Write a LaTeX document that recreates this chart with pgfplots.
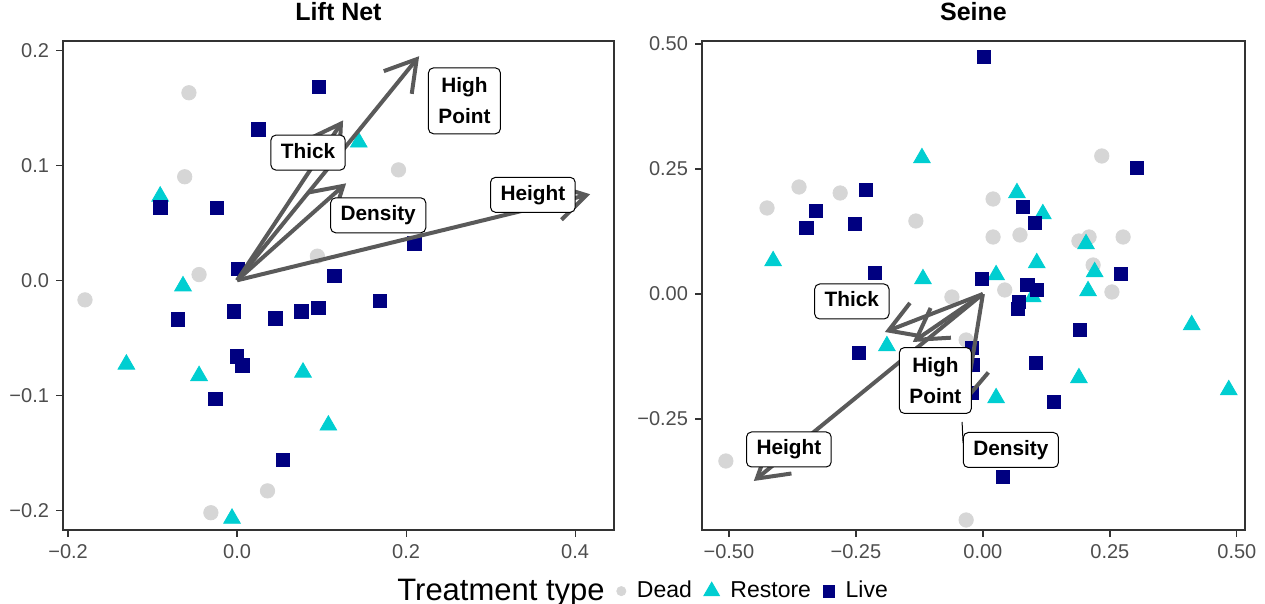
\documentclass[border=0pt]{standalone}
\usepackage{fontspec}
\setmainfont{Liberation Sans}
\usepackage{pgfplots}
\pgfplotsset{compat=1.18}
\usetikzlibrary{arrows.meta}
\definecolor{deadc}{HTML}{D6D6D6}
\definecolor{restorec}{HTML}{00CED1}
\definecolor{livec}{HTML}{000080}
\definecolor{arrowc}{HTML}{5A5A5A}
\definecolor{tickc}{HTML}{4D4D4D}
\definecolor{framec}{HTML}{333333}
\pgfplotsset{
  panel/.style={
    scale only axis, height=244.5pt,
    anchor=south west,
    axis line style={framec, line width=0.6pt},
    tick align=outside, tick pos=left,
    major tick length=3.5pt,
    tick style={framec, line width=0.6pt},
    tick label style={font=\fontsize{10}{12}\selectfont, text=tickc},
    title style={font=\bfseries\fontsize{12.5}{15}\selectfont, anchor=base, at={(0.5,1)}, yshift=4pt},
    scaled ticks=false,
    clip marker paths=true,
  },
  dead/.style={only marks, mark=*, mark size=3.6pt, color=deadc, forget plot},
  restore/.style={only marks, mark=triangle*, mark size=4.8pt, color=restorec, forget plot},
  live/.style={only marks, mark=square*, mark size=3.4pt, color=livec, forget plot},
  vec/.style={arrowc, line width=2pt, -{Straight Barb[length=15pt,width=18pt]}, forget plot},
}
\tikzset{
  lab/.style={draw=black, fill=white, rounded corners=2.5pt, line width=0.5pt, font=\bfseries\fontsize{10.4}{15.3}\selectfont, inner xsep=5pt, inner ysep=4pt, text height=7.5pt, text depth=2pt},
  lab2/.style={draw=black, fill=white, rounded corners=2.5pt, line width=0.5pt, font=\bfseries\fontsize{10.4}{15.3}\selectfont, inner xsep=5pt, inner ysep=5pt, align=center},
}
\begin{document}
\begin{tikzpicture}
\path[use as bounding box] (0,0) rectangle (632.5pt,302pt);
% ---------------- Lift Net ----------------
\begin{axis}[panel, at={(31.5pt,37pt)}, width=275.5pt,
  title={Lift Net},
  xmin=-0.206, xmax=0.446, ymin=-0.217, ymax=0.208,
  xtick={-0.2,0,0.2,0.4}, xticklabels={−0.2,0.0,0.2,0.4},
  ytick={-0.2,-0.1,0,0.1,0.2}, yticklabels={−0.2,−0.1,0.0,0.1,0.2},
  legend style={draw=none, fill=none, legend columns=-1,
    at={(axis description cs:0.5862,-0.125)}, anchor=west, inner sep=0pt,
    font=\fontsize{11.5}{13}\selectfont,
    /tikz/every odd column/.append style={column sep=5.5pt},
    /tikz/every even column/.append style={column sep=6pt},
    nodes={inner sep=0pt}},
  legend cell align=left,
  legend image code/.code={\draw[mark repeat=2,mark phase=2] plot coordinates {(0pt,0pt) (5pt,0pt) (10pt,0pt)};},
]
\addplot[dead] table {
-0.057 0.163
-0.062 0.090
-0.045 0.005
-0.180 -0.017
0.191 0.096
0.095 0.021
0.036 -0.183
-0.031 -0.202
};
\addplot[restore] table {
-0.091 0.073
-0.064 -0.005
-0.131 -0.073
-0.045 -0.083
0.078 -0.080
0.108 -0.126
-0.006 -0.207
0.144 0.120
};
\addplot[live] table {
0.097 0.168
0.025 0.131
-0.091 0.0635
-0.024 0.063
0.001 0.010
0.115 0.004
0.210 0.032
-0.070 -0.034
-0.004 -0.027
0.045 -0.033
0.076 -0.027
0.096 -0.024
0.169 -0.018
0.000 -0.066
0.006 -0.074
-0.026 -0.103
0.054 -0.156
};
\addplot[vec] coordinates {(0,0) (0.1254,0.139)};
\addplot[vec] coordinates {(0,0) (0.129,0.0843)};
\addplot[vec] coordinates {(0,0) (0.2154,0.1948)};
\addplot[vec] coordinates {(0,0) (0.4178,0.0748)};
\node[lab] at (axis cs:0.084,0.111) {Thick};
\node[lab] at (axis cs:0.167,0.0565) {Density};
\node[lab2] at (axis cs:0.269,0.156) {High\\Point};
\node[lab] at (axis cs:0.350,0.0743) {Height};
\addlegendimage{empty legend}\addlegendentry{\fontsize{15.5}{18}\selectfont Treatment type}
\addlegendimage{only marks, mark=*, mark size=2.3pt, color=deadc}\addlegendentry{Dead}
\addlegendimage{only marks, mark=triangle*, mark size=4.5pt, color=restorec}\addlegendentry{Restore}
\addlegendimage{only marks, mark=square*, mark size=2.9pt, color=livec}\addlegendentry{Live}
\end{axis}
% ---------------- Seine ----------------
\begin{axis}[panel, at={(351pt,37pt)}, width=271.5pt,
  title={Seine},
  xmin=-0.553, xmax=0.516, ymin=-0.472, ymax=0.506,
  xtick={-0.5,-0.25,0,0.25,0.5}, xticklabels={−0.50,−0.25,0.00,0.25,0.50},
  ytick={-0.25,0,0.25,0.5}, yticklabels={−0.25,0.00,0.25,0.50},
]
\addplot[dead] table {
-0.425 0.172
-0.362 0.214
-0.281 0.202
-0.132 0.146
0.234 0.276
0.020 0.190
0.020 0.114
0.073 0.118
0.189 0.106
0.209 0.114
0.276 0.114
0.217 0.058
0.043 0.008
0.254 0.004
-0.061 -0.006
-0.033 -0.092
-0.033 -0.452
-0.506 -0.334
};
\addplot[restore] table {
-0.413 0.066
-0.120 0.272
-0.118 0.030
0.067 0.202
0.118 0.160
0.203 0.100
0.106 0.062
0.220 0.044
0.026 0.038
0.098 -0.006
0.207 0.006
0.411 -0.062
0.189 -0.168
0.484 -0.192
0.026 -0.208
-0.189 -0.104
};
\addplot[live] table {
0.002 0.474
0.303 0.252
0.079 0.174
0.102 0.142
0.272 0.040
-0.002 0.030
0.087 0.018
0.106 0.008
-0.230 0.208
-0.329 0.166
-0.347 0.132
-0.252 0.140
-0.213 0.042
-0.244 -0.118
0.071 -0.016
0.069 -0.030
0.191 -0.072
0.104 -0.138
0.140 -0.216
0.039 -0.366
-0.022 -0.108
-0.021 -0.142
-0.022 -0.198
};
\addplot[vec] coordinates {(0,0) (-0.193,-0.076)};
\addplot[vec] coordinates {(0,0) (-0.138,-0.096)};
\addplot[vec] coordinates {(0,0) (-0.451,-0.374)};
\addplot[vec] coordinates {(0,0) (-0.035,-0.218)};
\addplot[black, line width=0.5pt, forget plot] coordinates {(-0.041,-0.256) (-0.039,-0.298)};
\node[lab] at (axis cs:-0.258,-0.015) {Thick};
\node[lab2] at (axis cs:-0.0935,-0.173) {High\\Point};
\node[lab] at (axis cs:-0.382,-0.311) {Height};
\node[lab] at (axis cs:0.055,-0.312) {Density};
\end{axis}
\end{tikzpicture}
\end{document}
